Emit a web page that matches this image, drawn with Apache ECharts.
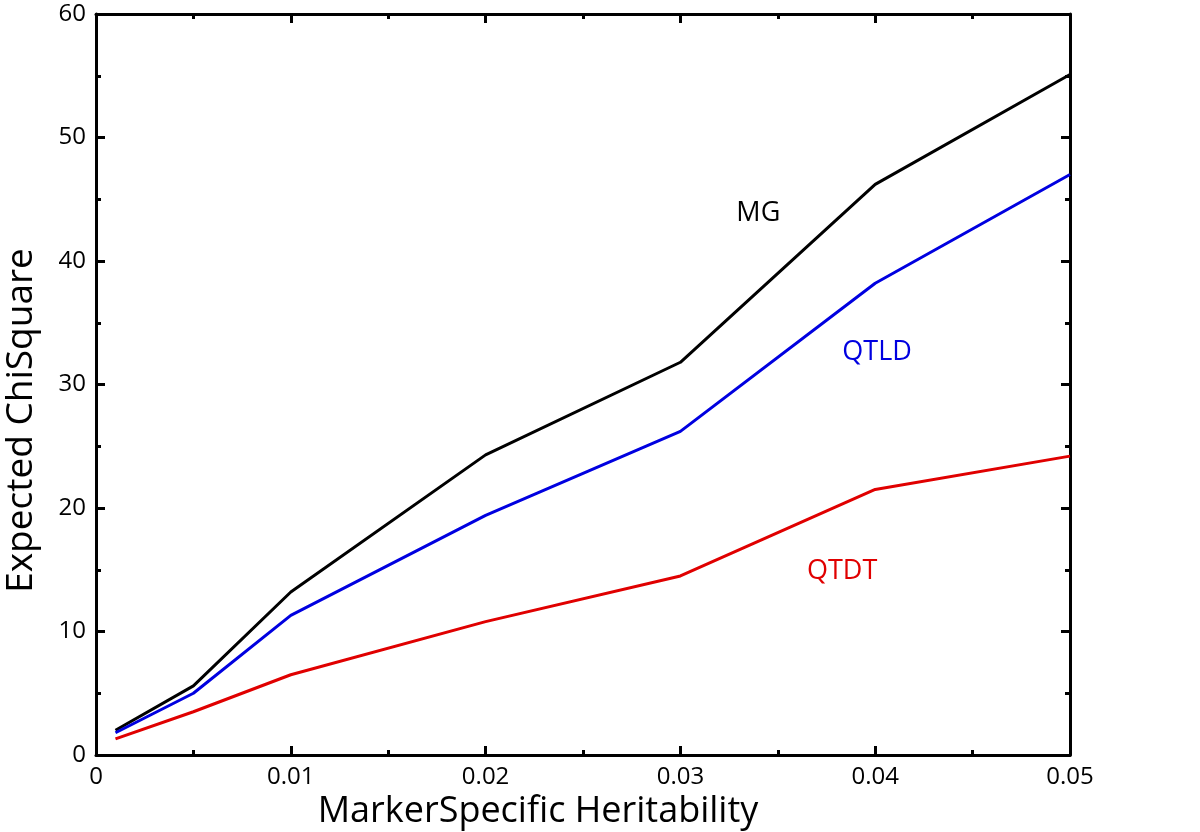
<!DOCTYPE html>
<html><head><meta charset="utf-8">
<script src="https://cdn.jsdelivr.net/npm/echarts@6/dist/echarts.min.js"></script>
<style>html,body{margin:0;padding:0;background:#fff}#c{width:1200px;height:832px}</style>
</head><body><div id="c"></div>
<script>
const xs = [0.001, 0.005, 0.01, 0.02, 0.03, 0.04, 0.05];
const mg = [2.0, 5.6, 13.2, 24.3, 31.8, 46.2, 55.1];
const qtld = [1.8, 5.0, 11.3, 19.4, 26.2, 38.2, 47.0];
const qtdt = [1.3, 3.5, 6.5, 10.8, 14.5, 21.5, 24.2];
const seriesNames = ['MG', 'QTLD', 'QTDT'];
const seriesColors = ['#000000', '#0000e0', '#e00000'];
const labelPos = [[0.034, 43.9], [0.0401, 32.6], [0.0383, 14.9]];
const xTitle = 'MarkerSpecific Heritability';
const yTitle = 'Expected ChiSquare';

const font = 'Open Sans';
const vals = [mg, qtld, qtdt];
function axisCommon() {
  return {
    axisLine: {show: true, onZero: false, lineStyle: {color: '#000', width: 3}},
    axisTick: {show: true, inside: true, length: 9, lineStyle: {color: '#000', width: 3}},
    minorTick: {show: true, splitNumber: 2, length: 5, lineStyle: {color: '#000', width: 3}},
    splitLine: {show: false}
  };
}
const chart = echarts.init(document.getElementById('c'));
chart.setOption({
  animation: false,
  grid: {left: 96, top: 14, width: 974, height: 741, containLabel: false, outerBoundsMode: 'none'},
  xAxis: [
    Object.assign({type: 'value', min: 0, max: 0.05, interval: 0.01, position: 'bottom',
      axisLabel: {fontFamily: font, fontSize: 24, color: '#000', margin: 10,
        formatter: v => v === 0 ? '0' : v.toFixed(2)},
      name: xTitle, nameLocation: 'middle', nameGap: 34,
      nameTextStyle: {fontFamily: font, fontSize: 36, color: '#000', padding: [0, 90, 0, 0]}}, axisCommon()),
    Object.assign({type: 'value', min: 0, max: 0.05, interval: 0.01, position: 'top',
      axisLabel: {show: false}}, axisCommon())
  ],
  yAxis: [
    Object.assign({type: 'value', min: 0, max: 60, interval: 10, position: 'left',
      axisLabel: {fontFamily: font, fontSize: 24, color: '#000', margin: 10},
      name: yTitle, nameLocation: 'middle', nameGap: 56, nameRotate: 90,
      nameTextStyle: {fontFamily: font, fontSize: 37, color: '#000', padding: [0, 72, 0, 0]}}, axisCommon()),
    Object.assign({type: 'value', min: 0, max: 60, interval: 10, position: 'right',
      axisLabel: {show: false}}, axisCommon())
  ],
  series: seriesNames.map((n, i) => ({
    name: n, type: 'line', symbol: 'none',
    data: xs.map((x, j) => [x, vals[i][j]]),
    lineStyle: {color: seriesColors[i], width: 3},
    markPoint: {
      symbol: 'circle', symbolSize: 0,
      data: [{coord: labelPos[i], value: n}],
      label: {show: true, position: 'inside', formatter: n, color: seriesColors[i],
        fontFamily: font, fontSize: 27}
    }
  }))
});
</script></body></html>
